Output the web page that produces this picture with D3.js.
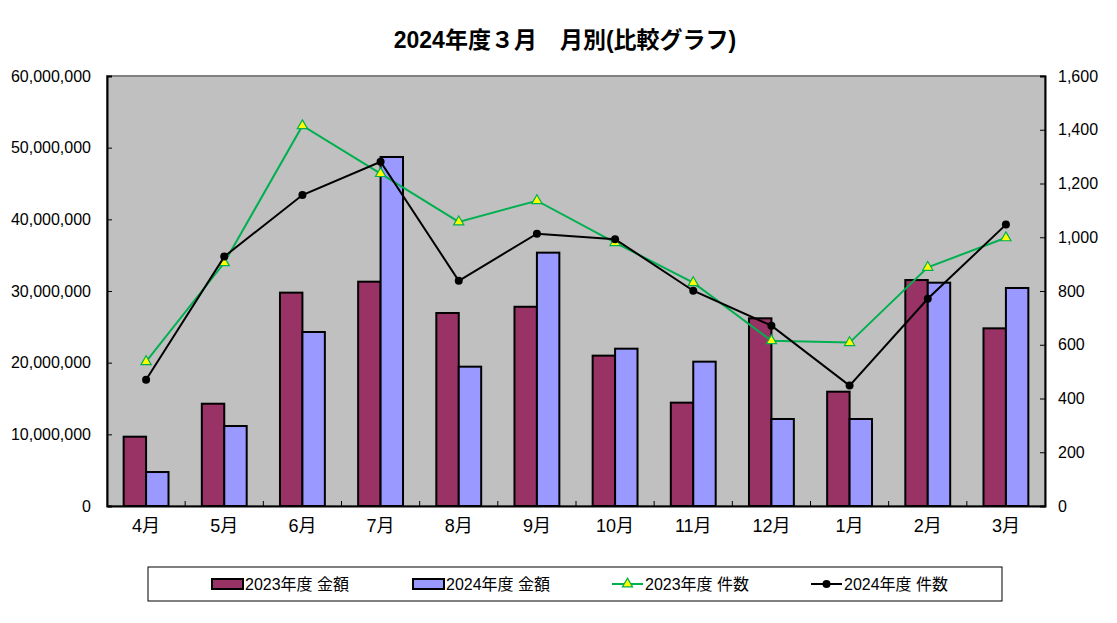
<!DOCTYPE html>
<html>
<head>
<meta charset="utf-8">
<script src="https://cdn.jsdelivr.net/npm/d3@7"></script>
<style>
  body { margin: 0; background: #fff; }
  svg text { font-family: "Liberation Sans Narrow", "Liberation Sans", "Noto Sans CJK JP", sans-serif; fill: #000; }
  .tick text { font-size: 16px; }
  .xaxis .tick text { font-size: 18px; }
</style>
</head>
<body>
<script>
const months = ["4月", "5月", "6月", "7月", "8月", "9月", "10月", "11月", "12月", "1月", "2月", "3月"];
const amount2023 = [9670000, 14270000, 29770000, 31300000, 26930000, 27800000, 20980000, 14420000, 26190000, 15950000, 31530000, 24790000];
const amount2024 = [4740000, 11160000, 24280000, 48700000, 19440000, 35350000, 21950000, 20140000, 12140000, 12140000, 31160000, 30420000];
const count2023 = [537, 905, 1415, 1237, 1057, 1136, 980, 831, 615, 608, 888, 998];
const count2024 = [470, 928, 1157, 1281, 838, 1013, 993, 801, 671, 448, 771, 1047];
const leftTicks = [0, 10000000, 20000000, 30000000, 40000000, 50000000, 60000000];
const rightTicks = [0, 200, 400, 600, 800, 1000, 1200, 1400, 1600];

const width = 1117;
const height = 623;
const plot = { left: 107, right: 1045, top: 76, bottom: 506 };

const col2023 = "#993366";
const col2024 = "#9999ff";
const green = "#00b050";

const svg = d3.select("body").append("svg")
  .attr("width", width)
  .attr("height", height);

svg.append("text")
  .attr("x", 565)
  .attr("y", 48)
  .attr("text-anchor", "middle")
  .style("font-family", "'Liberation Sans', 'Noto Sans CJK JP', sans-serif")
  .style("font-weight", "bold")
  .style("font-size", "23px")
  .text("2024年度３月　月別(比較グラフ)");

// plot background
svg.append("rect")
  .attr("x", plot.left)
  .attr("y", plot.top)
  .attr("width", plot.right - plot.left)
  .attr("height", plot.bottom - plot.top)
  .attr("fill", "#c0c0c0")
  .attr("stroke", "#808080")
  .attr("stroke-width", 2);

const x = d3.scaleBand()
  .domain(months)
  .range([plot.left, plot.right]);

const bw = x.bandwidth();
const xSub = d3.scaleBand()
  .domain(["2023", "2024"])
  .range([bw * 0.213, bw * 0.787]);

const yLeft = d3.scaleLinear()
  .domain([0, 60000000])
  .range([plot.bottom, plot.top]);

const yRight = d3.scaleLinear()
  .domain([0, 1600])
  .range([plot.bottom, plot.top]);

// bars
const barData = months.map((m, i) => ({ m, a: amount2023[i], b: amount2024[i] }));
const groups = svg.append("g").selectAll("g")
  .data(barData)
  .join("g")
  .attr("transform", (d) => `translate(${x(d.m)},0)`);

groups.append("rect")
  .attr("x", xSub("2023"))
  .attr("y", (d) => yLeft(d.a))
  .attr("width", xSub.bandwidth())
  .attr("height", (d) => plot.bottom - yLeft(d.a))
  .attr("fill", col2023)
  .attr("stroke", "#000")
  .attr("stroke-width", 2);

groups.append("rect")
  .attr("x", xSub("2024"))
  .attr("y", (d) => yLeft(d.b))
  .attr("width", xSub.bandwidth())
  .attr("height", (d) => plot.bottom - yLeft(d.b))
  .attr("fill", col2024)
  .attr("stroke", "#000")
  .attr("stroke-width", 2);

// axes
const leftAxis = svg.append("g")
  .attr("transform", `translate(${plot.left},0)`)
  .call(d3.axisLeft(yLeft).tickValues(leftTicks).tickFormat(d3.format(",")).tickSize(-5).tickPadding(16));

const rightAxis = svg.append("g")
  .attr("transform", `translate(${plot.right},0)`)
  .call(d3.axisRight(yRight).tickValues(rightTicks).tickFormat(d3.format(",")).tickSize(-5).tickPadding(13));

const xAxis = svg.append("g")
  .attr("class", "xaxis")
  .attr("transform", `translate(0,${plot.bottom})`)
  .call(d3.axisBottom(x).tickSize(0).tickPadding(13));

[leftAxis, rightAxis, xAxis].forEach((g) => {
  g.attr("font-family", null).attr("font-size", null);
  g.select(".domain").attr("stroke", "#000").attr("stroke-width", 2);
  g.selectAll(".tick line").attr("stroke", "#000");
});

// x ticks between categories, pointing up
svg.append("g").selectAll("line")
  .data(months.slice(1))
  .join("line")
  .attr("x1", (d) => x(d))
  .attr("x2", (d) => x(d))
  .attr("y1", plot.bottom)
  .attr("y2", plot.bottom - 5)
  .attr("stroke", "#000");

// lines
const cx = (d, i) => x(months[i]) + bw / 2;

const line2023 = d3.line().x(cx).y((d) => yRight(d));
const line2024 = d3.line().x(cx).y((d) => yRight(d));

svg.append("path")
  .datum(count2023)
  .attr("d", line2023)
  .attr("fill", "none")
  .attr("stroke", green)
  .attr("stroke-width", 2);

const tri = d3.symbol().type(d3.symbolTriangle).size(45);
svg.append("g").selectAll("path")
  .data(count2023)
  .join("path")
  .attr("d", tri)
  .attr("transform", (d, i) => `translate(${cx(d, i)},${yRight(d)})`)
  .attr("fill", "#ffff00")
  .attr("stroke", green)
  .attr("stroke-width", 1.2);

svg.append("path")
  .datum(count2024)
  .attr("d", line2024)
  .attr("fill", "none")
  .attr("stroke", "#000")
  .attr("stroke-width", 2);

svg.append("g").selectAll("circle")
  .data(count2024)
  .join("circle")
  .attr("cx", cx)
  .attr("cy", (d) => yRight(d))
  .attr("r", 4)
  .attr("fill", "#000");

// legend
svg.append("rect")
  .attr("x", 148)
  .attr("y", 567)
  .attr("width", 854)
  .attr("height", 34)
  .attr("fill", "#fff")
  .attr("stroke", "#000");

const legendItems = [
  { label: "2023年度 金額", type: "bar", color: col2023, x: 212 },
  { label: "2024年度 金額", type: "bar", color: col2024, x: 413 },
  { label: "2023年度 件数", type: "tri", color: green, x: 612 },
  { label: "2024年度 件数", type: "dot", color: "#000", x: 811 }
];

const li = svg.append("g").selectAll("g")
  .data(legendItems)
  .join("g")
  .attr("transform", (d) => `translate(${d.x},584)`);

li.filter((d) => d.type === "bar")
  .append("rect")
  .attr("x", 0)
  .attr("y", -5)
  .attr("width", 31)
  .attr("height", 10)
  .attr("fill", (d) => d.color)
  .attr("stroke", "#000")
  .attr("stroke-width", 2);

li.filter((d) => d.type !== "bar")
  .append("line")
  .attr("x1", 0)
  .attr("x2", 31)
  .attr("stroke", (d) => d.color)
  .attr("stroke-width", 2);

li.filter((d) => d.type === "tri")
  .append("path")
  .attr("d", tri)
  .attr("transform", "translate(15.5,0)")
  .attr("fill", "#ffff00")
  .attr("stroke", green)
  .attr("stroke-width", 1.2);

li.filter((d) => d.type === "dot")
  .append("circle")
  .attr("cx", 15.5)
  .attr("r", 4)
  .attr("fill", "#000");

li.append("text")
  .attr("x", 33)
  .attr("dy", "0.35em")
  .style("font-size", "16px")
  .text((d) => d.label);
</script>
</body>
</html>
